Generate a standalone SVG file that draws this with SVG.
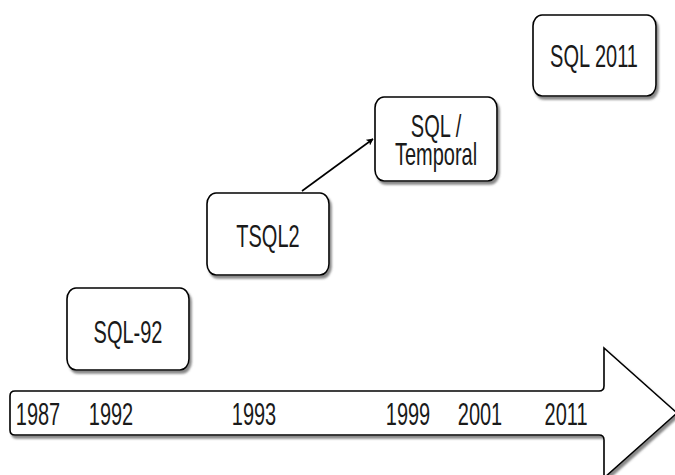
<svg xmlns="http://www.w3.org/2000/svg" width="675" height="475" viewBox="0 0 675 475">
  <style>
    .box { fill: #ffffff; stroke: #000000; stroke-width: 1.6; filter: url(#shadow); }
    .lbl { font-family: "Liberation Sans", Arial, sans-serif; font-size: 20px; fill: #1a1a1a; text-anchor: middle; }
    .edge { fill: none; stroke: #000000; stroke-width: 1.6; marker-end: url(#arrow); }
  </style>
  <defs>
    <filter id="shadow" x="-10%" y="-10%" width="130%" height="140%">
      <feDropShadow dx="2" dy="3" stdDeviation="1" flood-color="#555555" flood-opacity="0.7"/>
    </filter>
    <marker id="arrow" viewBox="0 0 10 10" refX="9" refY="5" markerWidth="7" markerHeight="7" orient="auto" markerUnits="userSpaceOnUse">
      <path d="M0,0 L10,5 L0,10 L2.5,5 Z" fill="#000000"/>
    </marker>
  </defs>

  <!-- timeline -->
  <g id="timeline">
    <path class="box" d="M15,391 H599 Q604,391 604,386 V348 L677,413 L604,478 V440 Q604,435 599,435 H15 Q10,435 10,430 V396 Q10,391 15,391 Z"/>
    <text class="lbl" transform="translate(38,425) scale(1,1.55)">1987</text>
    <text class="lbl" transform="translate(111,425) scale(1,1.55)">1992</text>
    <text class="lbl" transform="translate(254,425) scale(1,1.55)">1993</text>
    <text class="lbl" transform="translate(408,425) scale(1,1.55)">1999</text>
    <text class="lbl" transform="translate(480,425) scale(1,1.55)">2001</text>
    <text class="lbl" transform="translate(566,425) scale(1,1.55)">2011</text>
  </g>

  <!-- connectors -->
  <g id="connectors">
    <path class="edge" d="M302,191 L373,139"/>
  </g>

  <!-- nodes -->
  <g id="sql92">
    <rect class="box" x="67" y="288" width="122" height="82" rx="9" ry="11"/>
    <text class="lbl" transform="translate(128,343) scale(1,1.55)">SQL-92</text>
  </g>
  <g id="tsql2">
    <rect class="box" x="207" y="193" width="122" height="82" rx="9" ry="11"/>
    <text class="lbl" transform="translate(268,247) scale(1,1.55)">TSQL2</text>
  </g>
  <g id="sqltemporal">
    <rect class="box" x="375" y="97" width="122" height="84" rx="9" ry="11"/>
    <text class="lbl" transform="translate(436,137) scale(1,1.55)">SQL /</text>
    <text class="lbl" transform="translate(436,165) scale(1,1.55)">Temporal</text>
  </g>
  <g id="sql2011">
    <rect class="box" x="533" y="15" width="123" height="81" rx="9" ry="11"/>
    <text class="lbl" transform="translate(594,67) scale(1,1.55)">SQL 2011</text>
  </g>
</svg>
